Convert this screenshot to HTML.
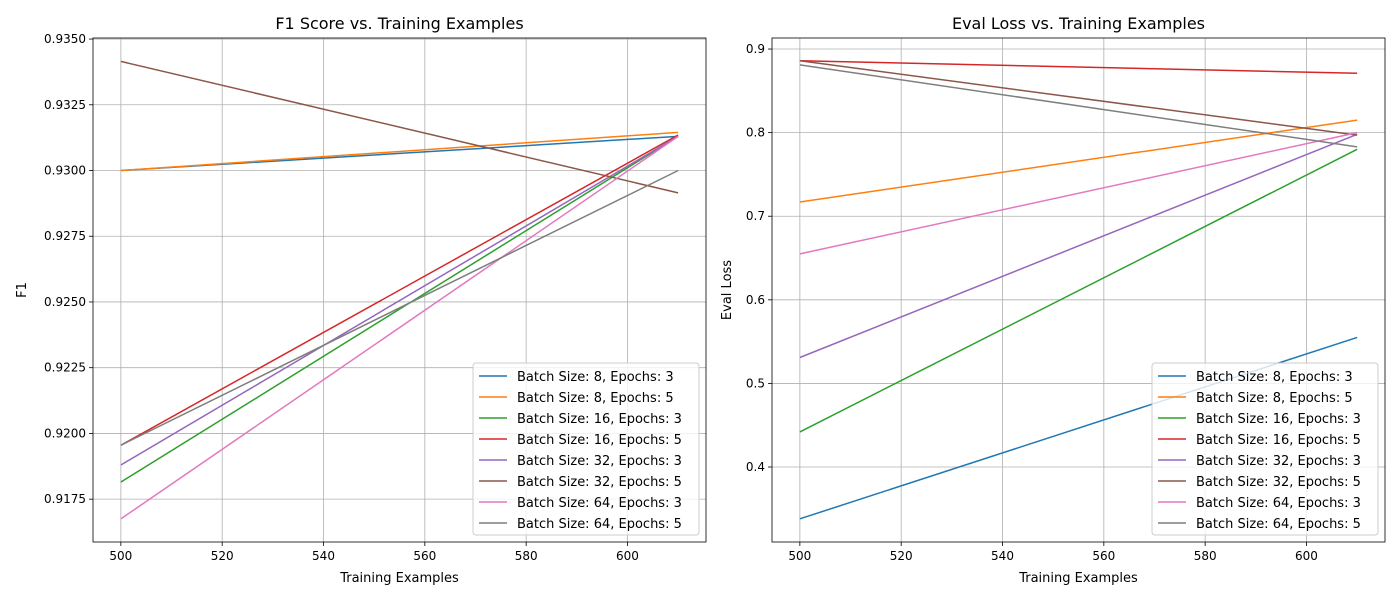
<!DOCTYPE html>
<html><head><meta charset="utf-8"><style>
body{margin:0;background:#fff;font-family:"DejaVu Sans","Liberation Sans",sans-serif;}
svg text{font-family:"DejaVu Sans","Liberation Sans",sans-serif;fill:#000;}
</style></head><body>
<svg id="c" width="1400" height="600" xmlns="http://www.w3.org/2000/svg"></svg>
<script>
const xValues=[500,610];
const seriesNames=["Batch Size: 8, Epochs: 3","Batch Size: 8, Epochs: 5","Batch Size: 16, Epochs: 3","Batch Size: 16, Epochs: 5","Batch Size: 32, Epochs: 3","Batch Size: 32, Epochs: 5","Batch Size: 64, Epochs: 3","Batch Size: 64, Epochs: 5"];
const colors=["#1f77b4","#ff7f0e","#2ca02c","#d62728","#9467bd","#8c564b","#e377c2","#7f7f7f"];
const f1Values=[[0.9300,0.9313],[0.9300,0.93145],[0.91815,0.9313],[0.91955,0.93135],[0.9188,0.9313],[0.93415,0.92915],[0.91675,0.9313],[0.91955,0.9300]];
const lossValues=[[0.338,0.555],[0.717,0.815],[0.442,0.780],[0.886,0.871],[0.531,0.798],[0.886,0.797],[0.655,0.800],[0.881,0.783]];
const xTicks=[500,520,540,560,580,600];
const f1Ticks=[0.9175,0.9200,0.9225,0.9250,0.9275,0.9300,0.9325,0.9350];
const lossTicks=[0.4,0.5,0.6,0.7,0.8,0.9];
const svg=document.getElementById('c');
const NS="http://www.w3.org/2000/svg";
function mk(tag,attrs,parent){const e=document.createElementNS(NS,tag);for(const k in attrs)e.setAttribute(k,attrs[k]);(parent||svg).appendChild(e);return e;}
function panel(p){
 const g=mk('g',{});
 
 
 const X=v=>p.x0+(v-p.xmin)/(p.xmax-p.xmin)*(p.x1-p.x0);
 const Y=v=>p.y1-(v-p.ymin)/(p.ymax-p.ymin)*(p.y1-p.y0);
 xTicks.forEach(t=>{const x=X(t);
  const l=mk('line',{x1:x,x2:x,y1:p.y0,y2:p.y1,stroke:'#b0b0b0','stroke-width':0.8},g);
  
  mk('line',{x1:x,x2:x,y1:p.y1,y2:p.y1+4,stroke:'#000','stroke-width':0.8},g);
  const tx=mk('text',{x:x,y:p.y1+18,'text-anchor':'middle','font-size':12},g);tx.textContent=t;
  });
 p.yt.forEach(t=>{const y=Y(t);
  const l=mk('line',{x1:p.x0,x2:p.x1,y1:y,y2:y,stroke:'#b0b0b0','stroke-width':0.8},g);
  
  mk('line',{x1:p.x0-4,x2:p.x0,y1:y,y2:y,stroke:'#000','stroke-width':0.8},g);
  const tx=mk('text',{x:p.x0-7,y:y+4,'text-anchor':'end','font-size':12},g);tx.textContent=t.toFixed(p.dec);
  });
 p.data.forEach((d,i)=>{
  const pl=mk('polyline',{points:xValues.map((xv,j)=>X(xv)+','+Y(d[j])).join(' '),fill:'none',stroke:colors[i],'stroke-width':1.5},g);
  });
 mk('rect',{x:p.x0,y:p.y0,width:p.x1-p.x0,height:p.y1-p.y0,fill:'none',stroke:'#000','stroke-width':0.8},g);
 const ti=mk('text',{x:(p.x0+p.x1)/2,y:p.y0-9,'text-anchor':'middle','font-size':16},g);ti.textContent=p.title;
 
 const xl=mk('text',{x:(p.x0+p.x1)/2,y:582,'text-anchor':'middle','font-size':13},g);xl.textContent='Training Examples';
 
 const yl=mk('text',{x:0,y:0,'text-anchor':'middle','font-size':13,transform:`translate(${p.ylx},${(p.y0+p.y1)/2}) rotate(-90)`},g);yl.textContent=p.ylabel;
 
 const lg=mk('g',{},g);
 mk('rect',{x:p.x1-233,y:363,width:226,height:172,rx:3,fill:'#fff','fill-opacity':0.8,stroke:'#ccc'},lg);
 seriesNames.forEach((n,i)=>{const y=376+i*21;
  const e=mk('g',{},lg);
  mk('line',{x1:p.x1-227,x2:p.x1-199,y1:y,y2:y,stroke:colors[i],'stroke-width':1.5},e);
  const t=mk('text',{x:p.x1-189,y:y+5,'font-size':13},e);t.textContent=n;});
}
panel({name:'f1-panel',x0:93,x1:706,y0:38,y1:542,xmin:494.5,xmax:615.5,ymin:0.91587,ymax:0.93504,yt:f1Ticks,dec:4,data:f1Values,title:'F1 Score vs. Training Examples',ylabel:'F1',ylx:26});
panel({name:'loss-panel',x0:772,x1:1385,y0:38,y1:542,xmin:494.5,xmax:615.5,ymin:0.3103,ymax:0.9132,yt:lossTicks,dec:1,data:lossValues,title:'Eval Loss vs. Training Examples',ylabel:'Eval Loss',ylx:731});
</script>
</body></html>
